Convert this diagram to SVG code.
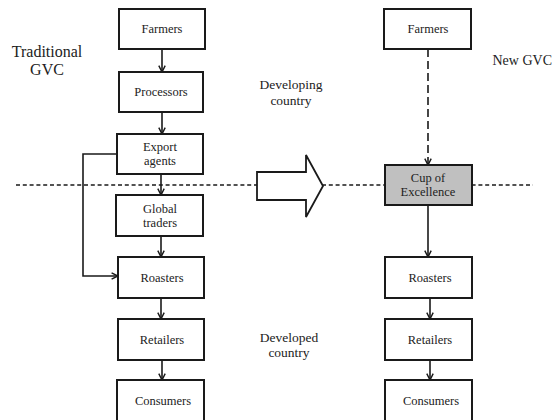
<svg xmlns="http://www.w3.org/2000/svg" width="553" height="420" viewBox="0 0 553 420">
<style>
.box{fill:#fff;stroke:#1a1a1a;stroke-width:2}
.grey{fill:#c0c0c0}
.t{font-family:"Liberation Serif","Times New Roman",serif;font-size:12.5px;fill:#222;text-anchor:middle}
.lbl{font-family:"Liberation Serif","Times New Roman",serif;fill:#222;text-anchor:middle}
.c{fill:none;stroke:#1a1a1a;stroke-width:1.6}
</style>
<defs>
<marker id="ah" viewBox="0 0 10 10" refX="9" refY="5" markerWidth="8" markerHeight="8" markerUnits="userSpaceOnUse" orient="auto">
<path d="M1,1 L9,5 L1,9" fill="none" stroke="#1a1a1a" stroke-width="1.8"/>
</marker>
</defs>
<rect width="553" height="420" fill="#fff"/>
<g id="border-line">
<line x1="16" y1="185" x2="533" y2="185" stroke="#1a1a1a" stroke-width="1.6" stroke-dasharray="4,2.8"/>
</g>
<g id="connectors">
<line class="c" x1="162" y1="49" x2="162" y2="72" marker-end="url(#ah)"/>
<line class="c" x1="162" y1="112" x2="162" y2="134" marker-end="url(#ah)"/>
<line class="c" x1="161" y1="174" x2="161" y2="195" marker-end="url(#ah)"/>
<line class="c" x1="161" y1="236" x2="161" y2="257" marker-end="url(#ah)"/>
<line class="c" x1="161" y1="298" x2="161" y2="319" marker-end="url(#ah)"/>
<line class="c" x1="162" y1="360" x2="162" y2="380" marker-end="url(#ah)"/>
<polyline class="c" points="117,154 83,154 83,276 118,276" marker-end="url(#ah)"/>
<line class="c" x1="428" y1="49" x2="428" y2="165" stroke-dasharray="8,4" marker-end="url(#ah)"/>
<line class="c" x1="428" y1="205" x2="428" y2="257" marker-end="url(#ah)"/>
<line class="c" x1="430" y1="298" x2="430" y2="319" marker-end="url(#ah)"/>
<line class="c" x1="430" y1="360" x2="430" y2="380" marker-end="url(#ah)"/>
</g>
<g id="big-arrow">
<polygon points="257,172 306,172 306,155 323,186 306,217 306,200 257,200" fill="#fff" stroke="#1a1a1a" stroke-width="1.8" stroke-linejoin="miter"/>
</g>
<g id="l-farmers"><rect class="box" x="119" y="9" width="86" height="40"/><text class="t" x="162" y="33">Farmers</text></g>
<g id="l-processors"><rect class="box" x="119" y="72" width="84" height="40"/><text class="t" x="161" y="96">Processors</text></g>
<g id="l-export"><rect class="box" x="117" y="134" width="86" height="40"/><text class="t" x="160" y="151">Export</text><text class="t" x="160" y="165">agents</text></g>
<g id="l-global"><rect class="box" x="116" y="195" width="87" height="41"/><text class="t" x="160" y="213">Global</text><text class="t" x="160" y="227">traders</text></g>
<g id="l-roasters"><rect class="box" x="118" y="257" width="86" height="41"/><text class="t" x="162" y="282">Roasters</text></g>
<g id="l-retailers"><rect class="box" x="118" y="319" width="86" height="41"/><text class="t" x="162" y="344">Retailers</text></g>
<g id="l-consumers"><rect class="box" x="117" y="380" width="87" height="44"/><text class="t" x="163" y="405">Consumers</text></g>
<g id="r-farmers"><rect class="box" x="384" y="9" width="87" height="40"/><text class="t" x="428" y="33">Farmers</text></g>
<g id="r-coe"><rect class="box grey" x="385" y="165" width="87" height="40"/><text class="t" x="428" y="182">Cup of</text><text class="t" x="428" y="196">Excellence</text></g>
<g id="r-roasters"><rect class="box" x="385" y="257" width="87" height="41"/><text class="t" x="430" y="282">Roasters</text></g>
<g id="r-retailers"><rect class="box" x="385" y="319" width="87" height="41"/><text class="t" x="430" y="344">Retailers</text></g>
<g id="r-consumers"><rect class="box" x="385" y="380" width="87" height="44"/><text class="t" x="431" y="405">Consumers</text></g>
<g id="labels">
<text class="lbl" font-size="16" x="47" y="57">Traditional</text>
<text class="lbl" font-size="16" x="47" y="75">GVC</text>
<text class="lbl" font-size="14" x="552" y="65" text-anchor="end" style="text-anchor:end">New GVC</text>
<text class="lbl" font-size="13.5" x="291" y="89">Developing</text>
<text class="lbl" font-size="13.5" x="291" y="105">country</text>
<text class="lbl" font-size="13.5" x="289" y="342">Developed</text>
<text class="lbl" font-size="13.5" x="289" y="357">country</text>
</g>
</svg>
